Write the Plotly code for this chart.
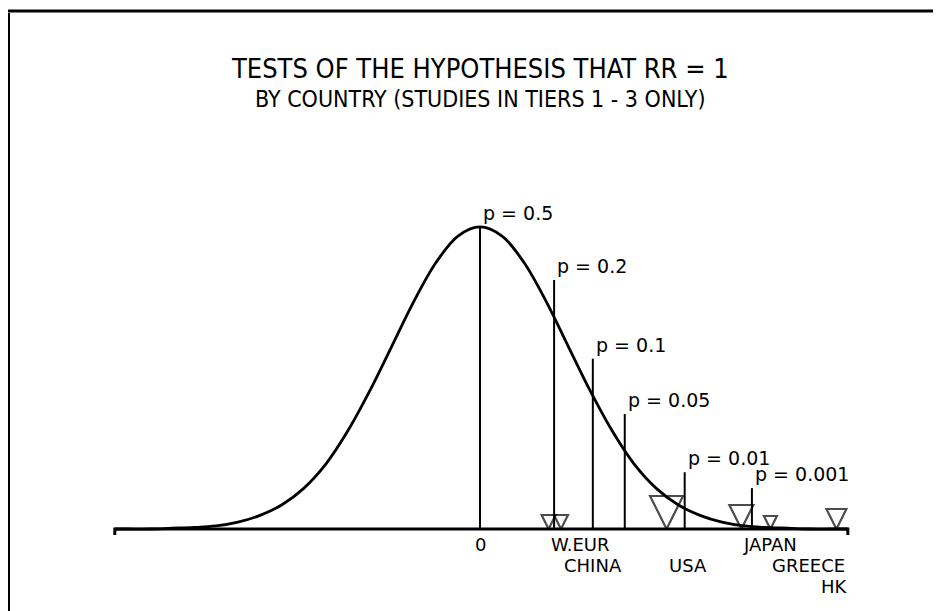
"""Normal curve of z-scores with p-value markers and country results."""

import plotly.graph_objects as go

# standard normal curve (z, height)
curve_z = [-4.15, -4.0, -3.75, -3.5, -3.25, -3.0, -2.75, -2.5, -2.25, -2.0, -1.75,
           -1.5, -1.25, -1.0, -0.75, -0.5, -0.25, 0.0, 0.25, 0.5, 0.75, 1.0,
           1.25, 1.5, 1.75, 2.0, 2.25, 2.5, 2.75, 3.0, 3.25, 3.5, 3.75, 4.0, 4.18]
curve_h = [0.000, 0.000, 0.000, 0.001, 0.002, 0.004, 0.009, 0.018, 0.032, 0.054, 0.086,
           0.130, 0.183, 0.242, 0.301, 0.352, 0.387, 0.399, 0.387, 0.352, 0.301, 0.242,
           0.183, 0.130, 0.086, 0.054, 0.032, 0.018, 0.009, 0.004, 0.002, 0.001, 0.000, 0.000, 0.000]

# p-value reference lines: label, z position, line height
p_labels = ["p = 0.5", "p = 0.2", "p = 0.1", "p = 0.05", "p = 0.01", "p = 0.001"]
p_z = [0.0, 0.842, 1.282, 1.645, 2.326, 3.09]
p_top = [0.399, 0.329, 0.225, 0.152, 0.075, 0.054]

# country test statistics and relative weight (triangle size)
countries = ["W.EUR", "CHINA", "USA", "JAPAN", "GREECE", "HK"]
country_z = [0.78, 0.92, 2.12, 2.97, 3.30, 4.05]
country_weight = [14, 14, 33, 24, 13, 20]

axis_ends = [-4.15, 4.18]

title = "TESTS OF THE HYPOTHESIS THAT RR = 1"
subtitle = "BY COUNTRY (STUDIES IN TIERS 1 - 3 ONLY)"

# label layout under the axis: row, anchor side, x nudge in px
label_row = [0, 1, 1, 0, 1, 2]
label_anchor = ["left", "left", "left", "left", "left", "right"]
label_nudge = [0, 1, 0, 0, 0, 14]

# the page body adds an 8px margin, so the figure is drawn 8px smaller
OFF = 8
W, H = 941 - OFF, 611 - OFF
PX_X = 88.0      # pixels per z unit
PX_Y = 757.0     # pixels per density unit
X0_PX, Y0_PX = 480 - OFF, 529 - OFF
ROW = 21         # px between label rows

LABEL_FONT = dict(family="DejaVu Sans, Arial, sans-serif", size=19, color="black")
NAME_FONT = dict(family="DejaVu Sans, Arial, sans-serif", size=18, color="black")
TITLE_FONT = "DejaVu Sans Condensed, Liberation Sans Narrow, Arial Narrow, sans-serif"

fig = go.Figure()

# baseline with small end ticks
fig.add_trace(go.Scatter(
    x=[axis_ends[0], axis_ends[0], axis_ends[1], axis_ends[1]],
    y=[-0.008, 0, 0, -0.008],
    mode="lines", line=dict(color="black", width=3), hoverinfo="skip",
))

fig.add_trace(go.Scatter(
    x=curve_z, y=curve_h, mode="lines", line=dict(color="black", width=2.8, shape="spline"),
    hoverinfo="skip",
))

for z, top in zip(p_z, p_top):
    fig.add_trace(go.Scatter(
        x=[z, z], y=[0, top], mode="lines", line=dict(color="black", width=2),
        hoverinfo="skip",
    ))

fig.add_trace(go.Scatter(
    x=country_z, y=[0] * len(country_z), mode="markers",
    marker=dict(symbol="arrow-down-open", size=country_weight, color="black",
                line=dict(color="black", width=2.2)),
    hoverinfo="skip", cliponaxis=False,
))

for lab, z, top in zip(p_labels, p_z, p_top):
    fig.add_annotation(x=z, y=top, text=lab, showarrow=False, xanchor="left",
                       yanchor="bottom", xshift=1, yshift=1, font=LABEL_FONT)

fig.add_annotation(x=0, y=0, text="0", showarrow=False, xanchor="center", yanchor="top",
                   yshift=-3, font=NAME_FONT)
for name, z, row, anc, dx in zip(countries, country_z, label_row, label_anchor, label_nudge):
    fig.add_annotation(x=z, y=0, text=name, showarrow=False, xanchor=anc, yanchor="top",
                       xshift=dx, yshift=-3 - ROW * row, font=NAME_FONT)

fig.add_annotation(xref="paper", yref="paper", x=X0_PX / W, y=1 - (69 - OFF) / H,
                   yanchor="middle", text=title, showarrow=False,
                   font=dict(family=TITLE_FONT, size=27, color="black"))
fig.add_annotation(xref="paper", yref="paper", x=X0_PX / W, y=1 - (99 - OFF) / H,
                   yanchor="middle", text=subtitle, showarrow=False,
                   font=dict(family=TITLE_FONT, size=23, color="black"))

# page frame (top and left edges)
fig.add_shape(type="line", xref="paper", yref="paper", x0=0, x1=1,
              y0=1 - 3 / H, y1=1 - 3 / H, line=dict(color="black", width=3))
fig.add_shape(type="line", xref="paper", yref="paper", x0=1 / W, x1=1 / W,
              y0=0, y1=1 - 5 / H, line=dict(color="black", width=2))

fig.update_layout(
    width=W, height=H, margin=dict(l=0, r=0, t=0, b=0),
    paper_bgcolor="white", plot_bgcolor="white", showlegend=False,
    xaxis=dict(range=[-X0_PX / PX_X, (W - X0_PX) / PX_X], visible=False),
    yaxis=dict(range=[-(H - Y0_PX) / PX_Y, Y0_PX / PX_Y], visible=False),
)

fig.write_html("out.html")
